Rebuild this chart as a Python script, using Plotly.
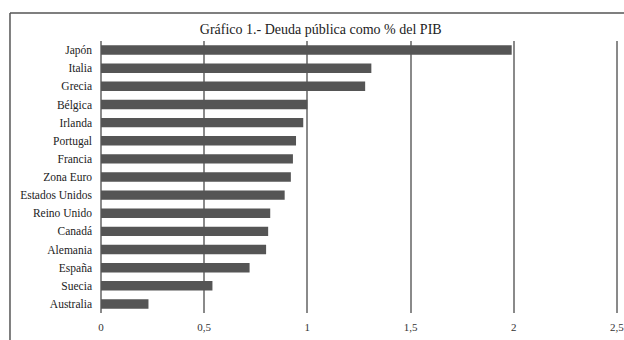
import plotly.graph_objects as go

countries = ["Japón", "Italia", "Grecia", "Bélgica", "Irlanda", "Portugal", "Francia",
             "Zona Euro", "Estados Unidos", "Reino Unido", "Canadá", "Alemania",
             "España", "Suecia", "Australia"]
values = [1.99, 1.31, 1.28, 1.00, 0.98, 0.945, 0.93, 0.92, 0.89, 0.82, 0.81, 0.80,
          0.72, 0.54, 0.23]
x_ticks = [0, 0.5, 1, 1.5, 2, 2.5]
x_tick_labels = ["0", "0,5", "1", "1,5", "2", "2,5"]
title_text = "Gráfico 1.- Deuda pública como % del PIB"

font_family = "Liberation Serif, Times New Roman, serif"
grid_color = "#8a8a8a"
frame_color = "#555555"

fig = go.Figure(go.Bar(
    x=values, y=countries, orientation="h",
    marker=dict(color="#555555", line=dict(width=0)),
    width=0.52,
))

shapes = [
    dict(type="line", xref="paper", yref="paper", x0=-0.1757, x1=-0.1757, y0=-0.2, y1=1.1029,
         line=dict(color=frame_color, width=1.5)),
    dict(type="line", xref="paper", yref="paper", x0=-0.1757, x1=1.05, y0=1.1029, y1=1.1029,
         line=dict(color=frame_color, width=1.5)),
    # last gridline at the range end (Plotly drops gridlines at the exact edge)
    dict(type="line", xref="x", yref="paper", x0=x_ticks[-1], x1=x_ticks[-1], y0=0, y1=1,
         line=dict(color=grid_color, width=1.5), layer="above"),
]

fig.update_layout(
    width=624, height=340,
    margin=dict(l=101, r=5, t=41, b=27, autoexpand=False),
    paper_bgcolor="white", plot_bgcolor="white",
    showlegend=False,
    font=dict(family=font_family, size=11.5, color="#222222"),
    title=dict(text=title_text, x=0.514, xanchor="center", y=0.915, yanchor="middle",
               font=dict(family=font_family, size=14, color="#222222")),
    xaxis=dict(range=[0, 2.51], tickvals=x_ticks, ticktext=x_tick_labels,
               automargin=False, ticklabeloverflow="allow",
               showgrid=True, gridcolor=grid_color, gridwidth=1.5,
               zeroline=True, zerolinecolor=grid_color, zerolinewidth=1.5,
               showline=False, ticks="", ticklabelstandoff=6,
               tickfont=dict(family=font_family, size=11, color="#333333")),
    yaxis=dict(categoryorder="array", categoryarray=countries[::-1],
               automargin=False,
               autorange=True, showgrid=False, zeroline=False, showline=False,
               ticks="", ticklabelstandoff=8,
               tickfont=dict(family=font_family, size=11.5, color="#222222")),
    shapes=shapes,
)

fig.write_html(
    "out.html",
    post_script="document.documentElement.style.overflow='hidden';"
                "document.body.style.overflow='hidden';document.body.style.margin='0';",
)
